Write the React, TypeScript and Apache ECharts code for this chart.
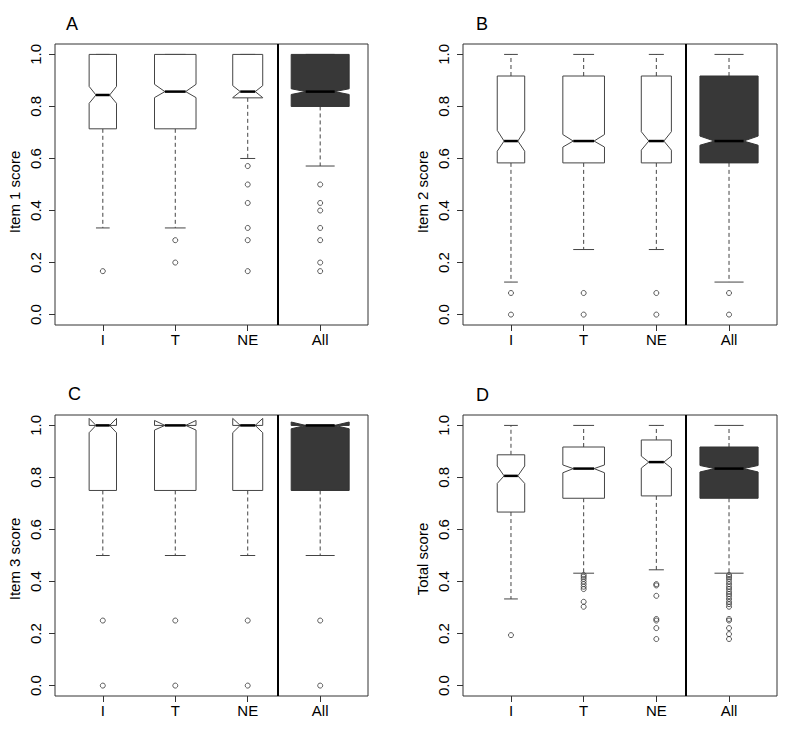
import React, { useEffect, useRef } from "react";
import * as echarts from "echarts";

// ---------- data ----------
const categories = ["I", "T", "NE", "All"];
const categoryPositions = [1, 2, 3, 4];
const boxWidths = [0.378, 0.573, 0.414, 0.8];
const yTicks = [0, 0.2, 0.4, 0.6, 0.8, 1.0];
const separatorAt = 3.41;

// stats per category: [whiskerLow, q1, notchLow, median, notchHigh, q3, whiskerHigh]
const item1Stats = [
  [0.333, 0.714, 0.812, 0.844, 0.877, 1.0, 1.0],
  [0.333, 0.714, 0.834, 0.857, 0.885, 1.0, 1.0],
  [0.6, 0.833, 0.834, 0.857, 0.88, 1.0, 1.0],
  [0.571, 0.8, 0.846, 0.857, 0.868, 1.0, 1.0],
];
const item1Outliers = [
  [0.167],
  [0.286, 0.2],
  [0.571, 0.5, 0.429, 0.333, 0.286, 0.167],
  [0.5, 0.429, 0.4, 0.333, 0.286, 0.2, 0.167],
];

const item2Stats = [
  [0.125, 0.583, 0.628, 0.667, 0.708, 0.917, 1.0],
  [0.25, 0.583, 0.644, 0.667, 0.692, 0.917, 1.0],
  [0.25, 0.583, 0.632, 0.667, 0.703, 0.917, 1.0],
  [0.125, 0.583, 0.651, 0.667, 0.686, 0.917, 1.0],
];
const item2Outliers = [
  [0.083, 0],
  [0.083, 0],
  [0.083, 0],
  [0.083, 0],
];

const item3Stats = [
  [0.5, 0.75, 0.972, 1.0, 1.027, 1.0, 1.0],
  [0.5, 0.75, 0.982, 1.0, 1.019, 1.0, 1.0],
  [0.5, 0.75, 0.972, 1.0, 1.027, 1.0, 1.0],
  [0.5, 0.75, 0.987, 1.0, 1.013, 1.0, 1.0],
];
const item3Outliers = [
  [0.25, 0],
  [0.25, 0],
  [0.25, 0],
  [0.25, 0],
];

const totalStats = [
  [0.333, 0.667, 0.777, 0.806, 0.844, 0.887, 1.0],
  [0.432, 0.72, 0.818, 0.834, 0.848, 0.917, 1.0],
  [0.445, 0.729, 0.836, 0.859, 0.882, 0.944, 1.0],
  [0.432, 0.72, 0.821, 0.834, 0.846, 0.917, 1.0],
];
const totalOutliers = [
  [0.194],
  [0.425, 0.418, 0.41, 0.4, 0.39, 0.38, 0.371, 0.322, 0.303],
  [0.39, 0.385, 0.345, 0.256, 0.25, 0.221, 0.179],
  [0.425, 0.418, 0.41, 0.4, 0.39, 0.38, 0.371, 0.361, 0.352, 0.343, 0.333, 0.322, 0.313, 0.303, 0.256, 0.25, 0.221, 0.198, 0.179],
];

const panelLetters = ["A", "B", "C", "D"];
const panelTitles = ["Item 1 score", "Item 2 score", "Item 3 score", "Total score"];

// ---------- layout ----------
const FONT = "'Liberation Sans', Arial, Helvetica, sans-serif";
const grids = [
  { left: 55, top: 44, width: 313, height: 281 },
  { left: 463, top: 44, width: 314, height: 281 },
  { left: 55, top: 415, width: 313, height: 281 },
  { left: 463, top: 415, width: 314, height: 281 },
];
const letterPos = [
  { x: 66, y: 25 },
  { x: 476, y: 25 },
  { x: 68, y: 395 },
  { x: 476, y: 396 },
];
const titlePos = [
  { x: 14, y: 192 },
  { x: 422, y: 192 },
  { x: 14, y: 559 },
  { x: 422, y: 559 },
];

const panelStats = [item1Stats, item2Stats, item3Stats, totalStats];
const panelOutliers = [item1Outliers, item2Outliers, item3Outliers, totalOutliers];

const BOX_STROKE = "#444";
const DARK = "#383838";

function renderBox(params: any, api: any) {
  const x = api.value(0);
  const wLow = api.value(1);
  const q1 = api.value(2);
  const nLow = api.value(3);
  const med = api.value(4);
  const nHigh = api.value(5);
  const q3 = api.value(6);
  const wHigh = api.value(7);
  const bw = api.value(8);
  const filled = api.value(9) === 1;
  const half = bw / 2;
  const c = (xx: number, yy: number) => api.coord([xx, yy]);
  const pts = [
    c(x - half, q1),
    c(x + half, q1),
    c(x + half, nLow),
    c(x + half / 2, med),
    c(x + half, nHigh),
    c(x + half, q3),
    c(x - half, q3),
    c(x - half, nHigh),
    c(x - half / 2, med),
    c(x - half, nLow),
  ];
  const seg = (a: number[], b: number[], style: any) => ({
    type: "line",
    shape: { x1: a[0], y1: a[1], x2: b[0], y2: b[1] },
    style,
  });
  const dashStyle = { stroke: "#444", lineWidth: 1, lineDash: [4, 3] };
  const solid = { stroke: "#444", lineWidth: 1 };
  return {
    type: "group",
    children: [
      seg(c(x, q1), c(x, wLow), dashStyle),
      seg(c(x, q3), c(x, wHigh), dashStyle),
      seg(c(x - half / 2, wLow), c(x + half / 2, wLow), solid),
      seg(c(x - half / 2, wHigh), c(x + half / 2, wHigh), solid),
      {
        type: "polygon",
        shape: { points: pts },
        style: { fill: filled ? DARK : "#fff", stroke: filled ? "#333" : BOX_STROKE, lineWidth: 1 },
      },
      seg(c(x - half / 2, med), c(x + half / 2, med), { stroke: "#000", lineWidth: 2.5 }),
    ],
  };
}

function buildOption() {
  const grid: any[] = [];
  const xAxis: any[] = [];
  const yAxis: any[] = [];
  const series: any[] = [];
  const graphic: any[] = [];

  for (let p = 0; p < 4; p++) {
    grid.push({
      ...grids[p],
      show: true,
      borderColor: "#333",
      borderWidth: 1,
      backgroundColor: "transparent",
      containLabel: false,
    });
    xAxis.push({
      type: "value",
      gridIndex: p,
      min: 0.34,
      max: 4.66,
      axisLine: { show: false, onZero: false },
      splitLine: { show: false },
      axisTick: {
        show: true,
        length: 6,
        customValues: categoryPositions,
        lineStyle: { color: "#333", width: 1 },
      },
      axisLabel: {
        customValues: categoryPositions,
        formatter: (v: number) => categories[Math.round(v) - 1] ?? "",
        color: "#000",
        fontSize: 15,
        fontFamily: FONT,
        margin: 7,
      },
    });
    yAxis.push({
      type: "value",
      gridIndex: p,
      min: -0.04,
      max: 1.04,
      axisLine: { show: false, onZero: false },
      splitLine: { show: false },
      axisTick: {
        show: true,
        length: 6,
        customValues: yTicks,
        lineStyle: { color: "#333", width: 1 },
      },
      axisLabel: {
        customValues: yTicks,
        formatter: (v: number) => v.toFixed(1),
        rotate: 90,
        color: "#000",
        fontSize: 15,
        fontFamily: FONT,
        margin: 12,
      },
    });

    const stats = panelStats[p];
    const boxData = stats.map((s, i) => [
      categoryPositions[i],
      ...s,
      boxWidths[i],
      i === 3 ? 1 : 0,
    ]);
    series.push({
      type: "custom",
      xAxisIndex: p,
      yAxisIndex: p,
      renderItem: renderBox,
      data: boxData,
      encode: { x: 0, y: [1, 2, 3, 4, 5, 6, 7] },
      silent: true,
      clip: false,
      z: 2,
    });

    const outs: number[][] = [];
    panelOutliers[p].forEach((list, i) => {
      list.forEach((v) => outs.push([categoryPositions[i], v]));
    });
    series.push({
      type: "scatter",
      xAxisIndex: p,
      yAxisIndex: p,
      data: outs,
      symbol: "circle",
      symbolSize: 5,
      itemStyle: { color: "rgba(0,0,0,0)", borderColor: "#333", borderWidth: 1 },
      silent: true,
      z: 3,
      markLine: {
        silent: true,
        symbol: ["none", "none"],
        label: { show: false },
        lineStyle: { color: "#000", width: 2, type: "solid" },
        data: [{ xAxis: separatorAt }],
        animation: false,
      },
    });

    graphic.push({
      type: "text",
      left: letterPos[p].x,
      top: letterPos[p].y - 10,
      style: { text: panelLetters[p], fontSize: 18, fontFamily: FONT, fill: "#000" },
    });
    graphic.push({
      type: "text",
      x: titlePos[p].x,
      y: titlePos[p].y,
      rotation: Math.PI / 2,
      style: {
        text: panelTitles[p],
        fontSize: 15,
        fontFamily: FONT,
        fill: "#000",
        align: "center",
        verticalAlign: "middle",
      },
    });
  }

  return {
    animation: false,
    backgroundColor: "#fff",
    grid,
    xAxis,
    yAxis,
    series,
    graphic,
  };
}

export default function App() {
  const ref = useRef<HTMLDivElement>(null);
  useEffect(() => {
    if (!ref.current) return;
    const chart = echarts.init(ref.current, undefined, { renderer: "svg" });
    chart.setOption(buildOption() as any);
    return () => chart.dispose();
  }, []);
  return (
    <div
      ref={ref}
      style={{ position: "absolute", left: 0, top: 0, width: 800, height: 752, background: "#fff" }}
    />
  );
}
